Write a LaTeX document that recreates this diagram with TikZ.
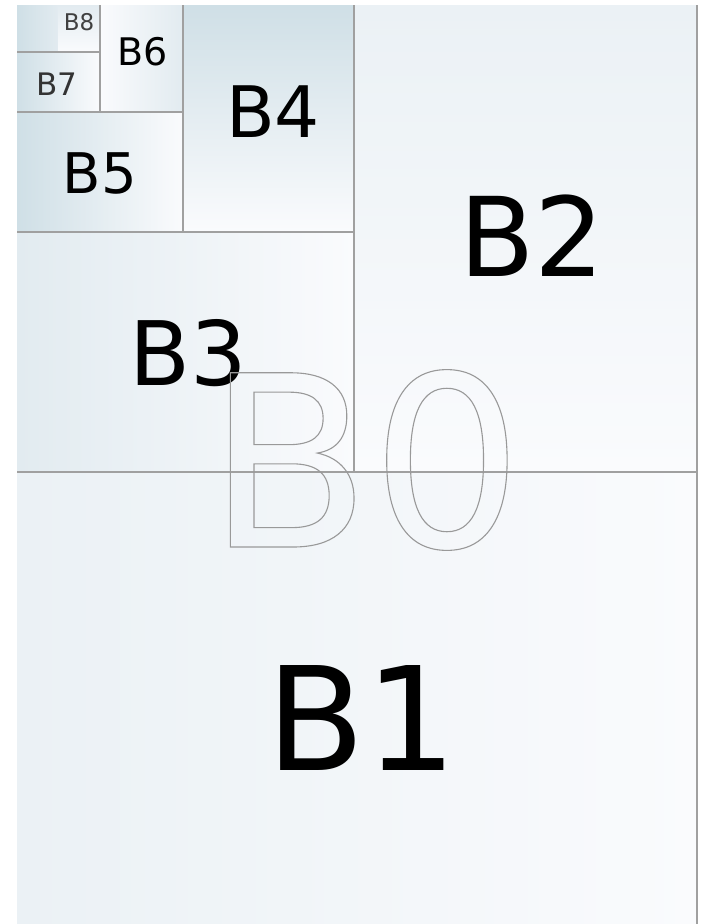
\documentclass[tikz,border=0pt]{standalone}
\usepackage{fontspec}
\setmainfont{DejaVu Sans}
\definecolor{bluA}{HTML}{CFDFE6}
\definecolor{bluB}{HTML}{E2EBF0}
\definecolor{bluC}{HTML}{EBF1F5}
\definecolor{palew}{HTML}{FAFBFD}
\definecolor{linec}{HTML}{A0A0A0}
\newcommand{\outlinetext}[1]{\special{pdf:literal direct 1 Tr 1.1 w}#1\special{pdf:literal direct 0 Tr}}
\begin{document}
\begin{tikzpicture}[x=1pt,y=-1pt,
  lbl/.style={anchor=base,inner sep=0pt,text=black},
  divline/.style={draw=linec,line width=1.8pt}]
\useasboundingbox (0,0) rectangle (703,924);
\fill[white] (0,0) rectangle (703,924);
% region fills
\shade[left color=bluC,right color=palew] (17,472) rectangle (697,924);
\shade[top color=bluC,bottom color=palew] (354,5) rectangle (697,472);
\shade[left color=bluB,right color=palew] (17,232) rectangle (354,472);
\shade[top color=bluA,bottom color=palew] (183,5) rectangle (354,232);
\shade[left color=bluA,right color=palew] (17,112) rectangle (183,232);
\shade[left color=palew,right color=bluB] (100,5) rectangle (183,112);
\shade[left color=bluA,right color=palew] (17,52) rectangle (100,112);
\shade[left color=bluA,right color=bluB] (17,5) rectangle (58,52);
\shade[top color=bluB,bottom color=palew] (58,5) rectangle (100,52);
% dividing lines
\draw[divline] (17,472) -- (697,472);
\draw[divline] (697,5) -- (697,924);
\draw[divline] (354,5) -- (354,472);
\draw[divline] (17,232) -- (354,232);
\draw[divline] (183,5) -- (183,232);
\draw[divline] (17,112) -- (183,112);
\draw[divline] (100,5) -- (100,112);
\draw[divline] (17,52) -- (100,52);
% labels
\node[lbl,font=\fontsize{144}{144}\selectfont] (b1) at (362,770) {B1};
\node[lbl,font=\fontsize{110}{110}\selectfont] (b2) at (532,276) {B2};
\node[lbl,font=\fontsize{89}{89}\selectfont] (b3) at (188,385) {B3};
\node[lbl,font=\fontsize{71}{71}\selectfont] (b4) at (273,137) {B4};
\node[lbl,font=\fontsize{56}{56}\selectfont] (b5) at (100,193) {B5};
\node[lbl,font=\fontsize{38}{38}\selectfont] (b6) at (143,65) {B6};
\node[lbl,font=\fontsize{31}{31}\selectfont,text=black!80] (b7) at (57,95) {B7};
\node[lbl,font=\fontsize{23}{23}\selectfont,text=black!75] (b8) at (79,30) {B8};
\node[anchor=base,inner sep=0pt,font=\fontsize{239}{239}\selectfont,text=gray!80] (b0) at (365,547) {\outlinetext{B0}};
\end{tikzpicture}
\end{document}
